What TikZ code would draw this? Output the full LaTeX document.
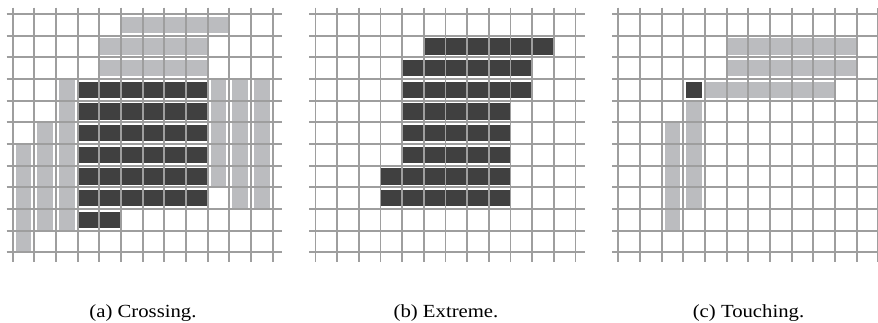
\documentclass[tikz,border=0pt]{standalone}
\usepackage{fontspec}
\setmainfont{Liberation Serif}
\usepackage{graphicx}
\definecolor{dk}{RGB}{64,64,64}
\definecolor{lt}{RGB}{187,188,191}
\definecolor{gridgray}{RGB}{158,158,158}
\newcommand\capfont{\fontsize{18.5pt}{22pt}\selectfont}
% horizontal bar: cols #1..#2, row #3, colour #4
\newcommand\hbarcell[4]{\fill[#4] (#1+0.02,#3+0.125) rectangle (#2+0.98,#3+0.875);}
% vertical bar: col #1, rows #2..#3, colour #4
\newcommand\vbarcell[4]{\fill[#4] (#1+0.14,#2) rectangle (#1+0.86,#3+1);}
\newcommand\panelgrid{%
  \foreach \i in {0,...,12} {\draw[gridline] (\i,-0.3) -- (\i,11.43);}
  \foreach \j in {0,...,11} {\draw[gridline] (-0.28,\j) -- (12.42,\j);}
}
\tikzset{
  gridline/.style={draw=gridgray, line width=1.8pt},
  cell/.style={x=21.667pt, y=-21.667pt},
  caption/.style={anchor=base, inner sep=0pt, font=\capfont}
}
\begin{document}
\begin{tikzpicture}
\useasboundingbox (0,0) rectangle (878pt,-322pt);
\fill[white] (0,0) rectangle (878pt,-322pt);
% (a) Crossing
\begin{scope}[shift={(12.7pt,-14pt)}, cell]
  \hbarcell{5}{9}{0}{lt}
  \hbarcell{4}{8}{1}{lt}
  \hbarcell{4}{8}{2}{lt}
  \foreach \r in {3,...,8} {\hbarcell{3}{8}{\r}{dk}}
  \hbarcell{3}{4}{9}{dk}
  \vbarcell{2}{3}{9}{lt}
  \vbarcell{1}{5}{9}{lt}
  \vbarcell{0}{6}{10}{lt}
  \vbarcell{9}{3}{7}{lt}
  \vbarcell{10}{3}{8}{lt}
  \vbarcell{11}{3}{8}{lt}
  \panelgrid
\end{scope}
% (b) Extreme
\begin{scope}[shift={(315.5pt,-14pt)}, cell]
  \hbarcell{5}{10}{1}{dk}
  \hbarcell{4}{9}{2}{dk}
  \hbarcell{4}{9}{3}{dk}
  \hbarcell{4}{8}{4}{dk}
  \hbarcell{4}{8}{5}{dk}
  \hbarcell{4}{8}{6}{dk}
  \hbarcell{3}{8}{7}{dk}
  \hbarcell{3}{8}{8}{dk}
  \panelgrid
\end{scope}
% (c) Touching
\begin{scope}[shift={(618.3pt,-14pt)}, cell]
  \hbarcell{5}{10}{1}{lt}
  \hbarcell{5}{10}{2}{lt}
  \fill[dk] (3.125,3.125) rectangle (3.875,3.875);
  \hbarcell{4}{9}{3}{lt}
  \vbarcell{3}{4}{8}{lt}
  \vbarcell{2}{5}{9}{lt}
  \panelgrid
\end{scope}
\node[caption] (capa) at (143pt,-317.3pt) {\scalebox{1.12}[1]{(a) Crossing.}};
\node[caption] (capb) at (446pt,-317.3pt) {\scalebox{1.12}[1]{(b) Extreme.}};
\node[caption] (capc) at (748.5pt,-317.3pt) {\scalebox{1.12}[1]{(c) Touching.}};
\end{tikzpicture}
\end{document}
